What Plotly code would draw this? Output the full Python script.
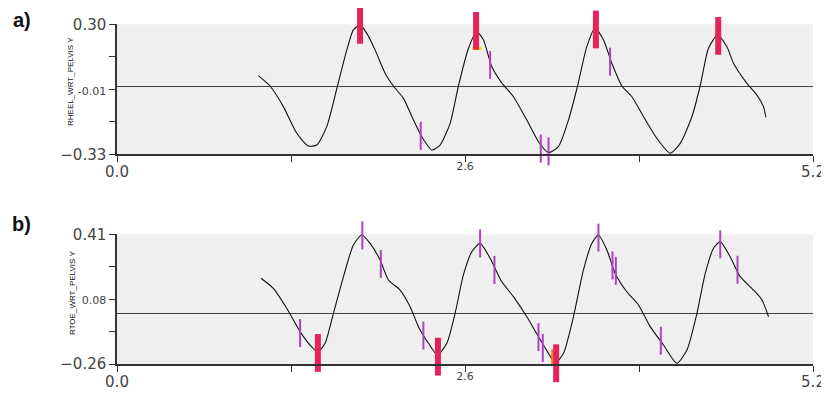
import plotly.graph_objects as go

# ---------------- data ----------------
heel_t = [1.056, 1.143, 1.243, 1.343, 1.430, 1.492, 1.567, 1.647, 1.717, 1.766, 1.816, 1.865, 1.928,
          2.003, 2.065, 2.140, 2.215, 2.277, 2.352, 2.414, 2.489, 2.551, 2.626, 2.688, 2.738, 2.800,
          2.870, 2.962, 3.062, 3.149, 3.224, 3.298, 3.373, 3.441, 3.510, 3.572, 3.635, 3.697, 3.772,
          3.847, 3.934, 4.033, 4.133, 4.208, 4.295, 4.357, 4.419, 4.487, 4.556, 4.606, 4.706, 4.781,
          4.830, 4.848]
heel_y = [0.051, 0.001, -0.099, -0.228, -0.290, -0.285, -0.196, 0.001, 0.176, 0.273, 0.297, 0.257, 0.176,
          0.063, 0.001, -0.059, -0.164, -0.245, -0.309, -0.285, -0.180, 0.001, 0.184, 0.264, 0.224, 0.095,
          0.020, -0.051, -0.164, -0.269, -0.322, -0.293, -0.164, 0.001, 0.192, 0.281, 0.224, 0.111, 0.001,
          -0.051, -0.148, -0.252, -0.325, -0.277, -0.148, 0.001, 0.184, 0.248, 0.192, 0.111, 0.014, -0.043,
          -0.099, -0.151]

toe_t = [1.076, 1.168, 1.268, 1.368, 1.442, 1.500, 1.555, 1.617, 1.692, 1.766, 1.829, 1.891, 1.966,
         2.028, 2.115, 2.190, 2.252, 2.327, 2.394, 2.464, 2.526, 2.588, 2.651, 2.713, 2.788, 2.870,
         2.962, 3.062, 3.149, 3.224, 3.274, 3.336, 3.410, 3.485, 3.547, 3.597, 3.660, 3.722, 3.809,
         3.896, 3.984, 4.083, 4.183, 4.258, 4.333, 4.395, 4.457, 4.507, 4.581, 4.656, 4.756, 4.819,
         4.868]
toe_y = [0.183, 0.131, 0.028, -0.093, -0.162, -0.196, -0.153, 0.002, 0.191, 0.355, 0.406, 0.363, 0.277,
         0.174, 0.122, 0.036, -0.067, -0.153, -0.214, -0.153, 0.002, 0.200, 0.320, 0.363, 0.286, 0.170,
         0.088, -0.016, -0.119, -0.205, -0.256, -0.205, -0.016, 0.226, 0.363, 0.406, 0.329, 0.208, 0.113,
         0.045, -0.067, -0.162, -0.256, -0.188, 0.002, 0.208, 0.338, 0.372, 0.294, 0.191, 0.122, 0.071,
         -0.016]

# event markers (panel a)
a_red_t = [1.816, 2.683, 3.578, 4.492]
a_red_y = [0.297, 0.268, 0.275, 0.244]
a_purple_t = [2.269, 2.788, 3.166, 3.224, 3.684]
a_purple_y = [-0.241, 0.103, -0.302, -0.316, 0.119]
a_yellow_t = [2.688]
a_yellow_y = [0.184]

# event markers (panel b)
b_red_t = [1.501, 2.398, 3.281, 4.183]
b_red_y = [-0.203, -0.222, -0.256, -0.262]
b_purple_t = [1.368, 1.833, 1.971, 2.289, 2.713, 2.820, 3.149, 3.181, 3.597, 3.702, 3.727, 4.063, 4.507, 4.636]
b_purple_y = [-0.100, 0.404, 0.257, -0.113, 0.363, 0.226, -0.121, -0.177, 0.393, 0.249, 0.221, -0.140, 0.358, 0.227]
b_orange_t = [3.255]
b_orange_y = [-0.224]

# axes
x_ticks = [0.0, 2.6, 5.2]
x_labels = ["0.0", "<span style='font-size:11px;baseline-shift:7px'>2.6</span>", "5.2"]
x_minor = [1.3, 3.9]
a_ticks = [0.30, -0.015, -0.33]
a_labels = ["0.30", "<span style='font-size:11px'>-0.01</span>", "\u22120.33"]
a_minor = [0.145, -0.17]
b_ticks = [0.41, 0.075, -0.26]
b_labels = ["0.41", "<span style='font-size:11px'>0.08</span>", "\u22120.26"]
b_minor = [0.2425, -0.0925]
a_title = "RHEEL_WRT_PELVIS Y"
b_title = "RTOE_WRT_PELVIS Y"

RED = "#e5225c"
PURPLE = "#b040c4"

fig = go.Figure()


def add_panel(xa, ya, t, y, red_t, red_y, pur_t, pur_y, extra_t, extra_y, extra_col, extra_sym, extra_size):
    fig.add_trace(go.Scatter(x=t, y=y, mode="lines", line=dict(color="#111", width=1.1, shape="spline", smoothing=0.6),
                             xaxis=xa, yaxis=ya, hoverinfo="skip", showlegend=False))
    fig.add_trace(go.Scatter(x=pur_t, y=pur_y, mode="markers", cliponaxis=False,
                             marker=dict(symbol="line-ns", size=20, line=dict(color=PURPLE, width=2)),
                             xaxis=xa, yaxis=ya, hoverinfo="skip", showlegend=False))
    fig.add_trace(go.Scatter(x=extra_t, y=extra_y, mode="markers", cliponaxis=False,
                             marker=dict(symbol=extra_sym, size=extra_size, line=dict(color=extra_col, width=3)),
                             xaxis=xa, yaxis=ya, hoverinfo="skip", showlegend=False))
    fig.add_trace(go.Scatter(x=red_t, y=red_y, mode="markers", cliponaxis=False,
                             marker=dict(symbol="line-ns", size=27, line=dict(color=RED, width=6)),
                             xaxis=xa, yaxis=ya, hoverinfo="skip", showlegend=False))


add_panel("x", "y", heel_t, heel_y, a_red_t, a_red_y, a_purple_t, a_purple_y,
          a_yellow_t, a_yellow_y, "#ffe000", "line-ew", 7)
add_panel("x2", "y2", toe_t, toe_y, b_red_t, b_red_y, b_purple_t, b_purple_y,
          b_orange_t, b_orange_y, "#f08020", "line-ns", 11)

# the page body has an 8px margin, so the figure is laid out in page pixels minus 8
OFF = 8
W, H = 829 - OFF, 394 - OFF
PLOT_L, PLOT_R, PLOT_T, PLOT_B = 117, 813, 24, 364   # page pixels
ML, MR, MT, MB = PLOT_L - OFF, 829 - PLOT_R, PLOT_T - OFF, 394 - PLOT_B
PW, PH = PLOT_R - PLOT_L, PLOT_B - PLOT_T


def px_x(px):
    return (px - PLOT_L) / PW


def px_y(py):
    return (PLOT_B - py) / PH


def ydom(top_px, bot_px):
    return [px_y(bot_px), px_y(top_px)]


TICKFONT = dict(family="DejaVu Sans", size=15, color="#444")
common_x = dict(range=[0, 5.2], tickvals=x_ticks, ticktext=x_labels, ticks="outside", ticklen=6,
                tickcolor="#333", showline=True, linecolor="#333", linewidth=1.5, showgrid=False,
                zeroline=False, automargin=False, ticklabelstandoff=-3, tickfont=TICKFONT,
                minor=dict(tickmode="array", tickvals=x_minor, ticks="outside", ticklen=6,
                           tickcolor="#333", showgrid=False))
common_y = dict(ticks="outside", ticklen=6, tickcolor="#333", showline=True, linecolor="#333",
                linewidth=1.5, showgrid=False, zeroline=True, zerolinecolor="#444", zerolinewidth=1.2,
                automargin=False, tickfont=TICKFONT)


def minor_y(vals):
    return dict(tickmode="array", tickvals=vals, ticks="outside", ticklen=6, tickcolor="#333", showgrid=False)


lbl_font = dict(family="Liberation Sans", size=20, color="#111")
ttl_font = dict(family="Liberation Sans", size=8, color="#111")

fig.update_layout(
    width=W, height=H, margin=dict(l=ML, r=MR, t=MT, b=MB, pad=0, autoexpand=False),
    paper_bgcolor="white", plot_bgcolor="#efefef",
    xaxis=dict(domain=[0, 1], anchor="y", **common_x),
    yaxis=dict(domain=ydom(24.3, 154.3), anchor="x", range=[-0.33, 0.30],
               tickvals=a_ticks, ticktext=a_labels, minor=minor_y(a_minor), **common_y),
    xaxis2=dict(domain=[0, 1], anchor="y2", **common_x),
    yaxis2=dict(domain=ydom(234.3, 364), anchor="x2", range=[-0.26, 0.41],
                tickvals=b_ticks, ticktext=b_labels, minor=minor_y(b_minor), **common_y),
    annotations=[
        dict(text="<b>a)</b>", x=px_x(22), y=px_y(20), xref="paper", yref="paper", showarrow=False,
             xanchor="center", yanchor="middle", font=lbl_font),
        dict(text="<b>b)</b>", x=px_x(22), y=px_y(224), xref="paper", yref="paper", showarrow=False,
             xanchor="center", yanchor="middle", font=lbl_font),
        dict(text=a_title, x=px_x(71), y=px_y(82), xref="paper", yref="paper", showarrow=False,
             xanchor="center", yanchor="middle", textangle=-90, font=ttl_font),
        dict(text=b_title, x=px_x(72), y=px_y(293), xref="paper", yref="paper", showarrow=False,
             xanchor="center", yanchor="middle", textangle=-90, font=ttl_font),
    ],
)

fig.write_html("out.html")
